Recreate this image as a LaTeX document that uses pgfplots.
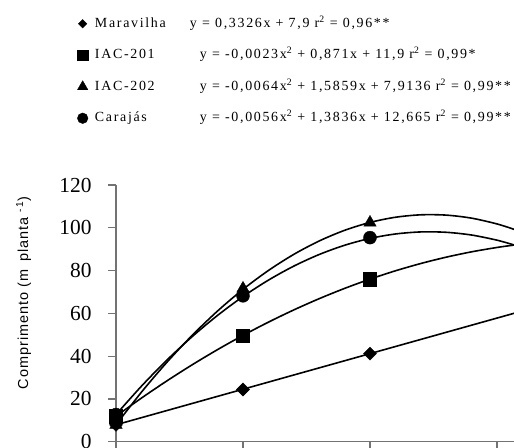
\documentclass[border=0pt]{standalone}
\usepackage{fontspec}
\setmainfont{Liberation Serif}
\setsansfont{Liberation Sans}
\newfontfamily\legfont[LetterSpace=12]{Liberation Serif}
\newfontfamily\labfont[LetterSpace=7]{Liberation Sans}
\usepackage{pgfplots}
\pgfplotsset{compat=1.18}
\pgfplotsset{
  curve/.style={black, line width=1.6bp, smooth, forget plot, no marks},
  mymarks/.style={only marks, black, mark size=6.5bp,
    legend image code/.code={\draw[mark repeat=2,mark phase=2,##1] plot coordinates {(0bp,0bp)(6bp,0bp)(12bp,0bp)};}},
}
\begin{document}
\begin{tikzpicture}
\begin{axis}[
  scale only axis, width=398bp, height=256.7bp,
  xmin=0, xmax=156.7, ymin=0, ymax=120, clip=false,
  axis x line*=bottom, axis y line*=left,
  axis line style={-, black!55, line width=1.2bp},
  tick style={black!55, line width=1.2bp},
  tick align=outside, major tick length=8bp,
  xtick={0,50,100,150}, xticklabels={},
  ytick={0,20,...,120},
  /pgf/number format/assume math mode=true,
  yticklabel style={font=\fontsize{21.5}{24}\selectfont, xshift=-13bp},
  ylabel={Comprimento (m\hspace{8bp}planta\hspace{5bp}\textsuperscript{-1})},
  ylabel style={font=\labfont\fontsize{14.5}{16}\selectfont, at={(rel axis cs:-0.232,0.579)}, anchor=center},
  legend style={at={(-0.105,1.662)}, anchor=north west, draw=none, fill=none,
    font=\legfont\fontsize{14}{16}\selectfont, row sep=18.5bp, column sep=7bp,
    nodes={inner sep=0pt, text height=10bp, text depth=3bp}},
  legend cell align=left,
]
% fitted curves
\addplot[curve] coordinates {(0,7.90) (50,24.53) (100,41.16) (150,57.79) (156.7,60.02)};
\addplot[curve] coordinates {(0,11.90) (10,20.38) (20,28.40) (30,35.96) (40,43.06) (50,49.70) (60,55.88) (70,61.60) (80,66.86) (90,71.66) (100,76.00) (110,79.88) (120,83.30) (130,86.26) (140,88.76) (150,90.80) (156.7,91.91)};
\addplot[curve] coordinates {(0,7.91) (10,23.13) (20,37.07) (30,49.73) (40,61.11) (50,71.21) (60,80.03) (70,87.57) (80,93.83) (90,98.81) (100,102.50) (110,104.92) (120,106.06) (130,105.92) (140,104.50) (150,101.80) (156.7,99.27)};
\addplot[curve] coordinates {(0,12.67) (10,25.94) (20,38.10) (30,49.13) (40,59.05) (50,67.85) (60,75.52) (70,82.08) (80,87.51) (90,91.83) (100,95.03) (110,97.10) (120,98.06) (130,97.89) (140,96.61) (150,94.21) (156.7,91.97)};
% observed points
\addplot[mymarks, mark=square*, mark size=4.6bp, mark options={rotate=45}, legend image post style={mark size=3bp}] coordinates {(0,7.9) (50,24.4) (100,41.2)};
\addlegendentry{\makebox[95bp][l]{Maravilha}y = 0,3326x + 7,9 r\textsuperscript{2} = 0,96**}
\addplot[mymarks, mark=square*, mark size=6.6bp, legend image post style={mark size=5.3bp}] coordinates {(0,11.9) (50,49.7) (100,76.0)};
\addlegendentry{\makebox[105bp][l]{IAC-201}y = -0,0023x\textsuperscript{2} + 0,871x + 11,9 r\textsuperscript{2} = 0,99*}
\addplot[mymarks, mark=triangle*, mark size=7.2bp, legend image post style={mark size=6bp}] coordinates {(0,7.9) (50,71.6) (100,102.4)};
\addlegendentry{\makebox[105bp][l]{IAC-202}y = -0,0064x\textsuperscript{2} + 1,5859x + 7,9136 r\textsuperscript{2} = 0,99**}
\addplot[mymarks, mark=*, mark size=6.5bp, legend image post style={mark size=5.3bp}] coordinates {(0,12.7) (50,68.2) (100,95.4)};
\addlegendentry{\makebox[105bp][l]{Carajás}y = -0,0056x\textsuperscript{2} + 1,3836x + 12,665 r\textsuperscript{2} = 0,99**}
\coordinate (O) at (rel axis cs:0,0);
\end{axis}
\pgfresetboundingbox
\path[use as bounding box] ([xshift=-116bp,yshift=-6.3bp]O) rectangle ([xshift=398bp,yshift=441.7bp]O);
\end{tikzpicture}
\end{document}
